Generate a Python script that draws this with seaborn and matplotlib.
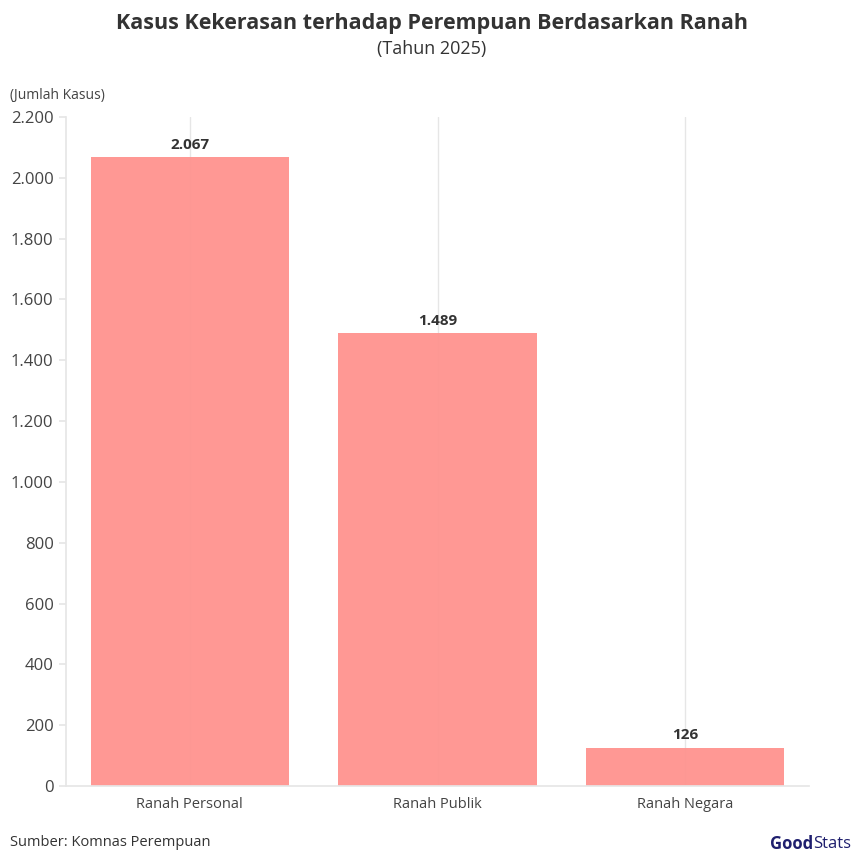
import numpy as np
import pandas as pd
import seaborn as sns
from matplotlib import pyplot as plt
from matplotlib.ticker import FuncFormatter

categories = ['Ranah Personal', 'Ranah Publik', 'Ranah Negara']
cases = [2067, 1489, 126]
y_ticks = [0, 200, 400, 600, 800, 1000, 1200, 1400, 1600, 1800, 2000, 2200]

df = pd.DataFrame({'Ranah': categories, 'Kasus': cases})


def dotted(v, pos=None):
    return f'{int(v):,}'.replace(',', '.')


sns.set_theme(style='white')
plt.rcParams['font.family'] = ['Open Sans', 'DejaVu Sans']

fig = plt.figure(figsize=(8.64, 8.65), dpi=100)
ax = fig.add_axes([66 / 864, 1 - 786 / 865, (809 - 66) / 864, (786 - 117) / 865])

sns.barplot(x='Ranah', y='Kasus', data=df, color='#ff9490', saturation=1,
            width=0.8, linewidth=0, alpha=0.96, ax=ax)

ax.set_xlim(-0.5, 2.5)
ax.set_ylim(0, 2200)
ax.set_yticks(y_ticks)
ax.yaxis.set_major_formatter(FuncFormatter(dotted))
ax.set_xlabel('')
ax.set_ylabel('')

ax.grid(axis='x', color='#e6e6e6', linewidth=1)
ax.set_axisbelow(True)
for s in ['top', 'right']:
    ax.spines[s].set_visible(False)
ax.spines['left'].set_color('#e6e6e6')
ax.spines['bottom'].set_color('#e6e6e6')
ax.tick_params(axis='y', length=5, color='#e6e6e6', labelsize=12, labelcolor='#444444', pad=4, left=True)
ax.tick_params(axis='x', length=0, labelsize=10.5, labelcolor='#444444', pad=8)

for p, v in zip(ax.patches, cases):
    ax.annotate(dotted(v), (p.get_x() + p.get_width() / 2., p.get_height()),
                ha='center', va='bottom', xytext=(0, 4), textcoords='offset points',
                fontsize=11, fontweight='bold', color='#333333')

fig.text(0.5, 1 - 24 / 865, 'Kasus Kekerasan terhadap Perempuan Berdasarkan Ranah',
         ha='center', va='center', fontsize=15.5, fontweight='bold', color='#333333')
fig.text(0.5, 1 - 49 / 865, '(Tahun 2025)', ha='center', va='center',
         fontsize=13, color='#333333')
fig.text(10 / 864, 1 - 96 / 865, '(Jumlah Kasus)', ha='left', va='center',
         fontsize=10, color='#444444')
fig.text(10 / 864, 1 - 843 / 865, 'Sumber: Komnas Perempuan', ha='left', va='center',
         fontsize=10.5, color='#333333')
fig.text(813 / 864, 1 - 844 / 865, 'Good', ha='right', va='center',
         fontsize=12, fontweight='bold', color='#1f1f6e')
fig.text(813 / 864, 1 - 844 / 865, 'Stats', ha='left', va='center',
         fontsize=12, color='#1f1f6e')

plt.savefig('out.png', dpi=100)
